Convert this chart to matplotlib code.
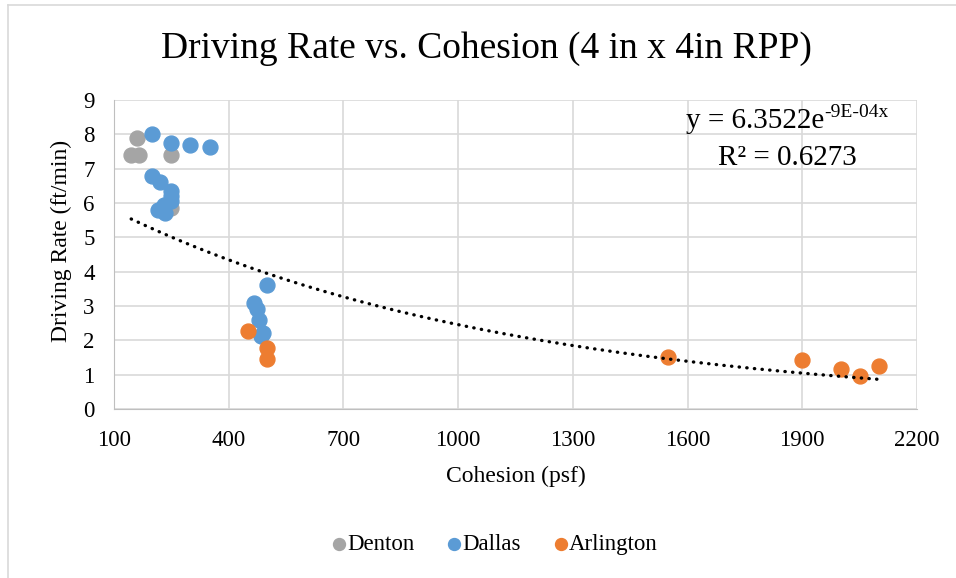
import numpy as np
import matplotlib
matplotlib.use("Agg")
import matplotlib.pyplot as plt
from matplotlib.lines import Line2D

plt.rcParams['font.family'] = ['Liberation Serif', 'DejaVu Serif']

# Datos
denton_x = [160, 145, 165, 250, 250]
denton_y = [7.9, 7.4, 7.4, 7.4, 5.85]

dallas_x = [200, 250, 300, 350, 200, 220, 250, 250, 250, 230, 215, 233,
            500, 465, 475, 480, 490, 485]
dallas_y = [8.0, 7.75, 7.7, 7.62, 6.78, 6.6, 6.35, 6.2, 6.05, 5.95, 5.8, 5.72,
            3.6, 3.1, 2.9, 2.6, 2.2, 2.12]

arlington_x = [450, 500, 500, 1550, 1900, 2000, 2050, 2100]
arlington_y = [2.27, 1.78, 1.45, 1.52, 1.42, 1.17, 0.95, 1.25]

# Linea de tendencia exponencial
a_tend = 6.3522
b_tend = -0.00095

x_ticks = [100, 400, 700, 1000, 1300, 1600, 1900, 2200]
y_ticks = list(range(0, 10))

W, H = 956, 578
fig = plt.figure(figsize=(W / 100, H / 100), dpi=100)
ax = fig.add_axes([114 / W, 1 - 409 / H, 803 / W, 309 / H])

ax.scatter(denton_x, denton_y, s=115, color='#a5a5a5', label='Denton', zorder=3)
ax.scatter(dallas_x, dallas_y, s=115, color='#5b9bd5', label='Dallas', zorder=3)
ax.scatter(arlington_x, arlington_y, s=115, color='#ed7d31', label='Arlington', zorder=3)

todos_x = denton_x + dallas_x + arlington_x
xt = np.linspace(min(todos_x), max(todos_x), 200)
ax.plot(xt, a_tend * np.exp(b_tend * xt), color='black', lw=2.4,
        linestyle=(0, (0.1, 2.2)), dash_capstyle='round', zorder=4)

ax.set_xlim(100, 2200)
ax.set_ylim(0, 9)
ax.set_xticks(x_ticks)
ax.set_yticks(y_ticks)
ax.tick_params(labelsize=16.5, length=0)
ax.tick_params(axis='x', pad=15)
ax.tick_params(axis='y', pad=14)
ax.grid(True, color='#d9d9d9', lw=1.2)
ax.set_axisbelow(True)
for s in ['top', 'right']:
    ax.spines[s].set_visible(False)
for s in ['left', 'bottom']:
    ax.spines[s].set_color('#bfbfbf')

ax.set_xlabel('Cohesion (psf)', fontsize=17)
ax.set_ylabel('Driving Rate (ft/min)', fontsize=17)
ax.xaxis.set_label_coords(0.5, (409 - 476) / 309)
ax.xaxis.label.set_va('center')
ax.yaxis.set_label_coords((61 - 114) / 803, 0.545)
ax.yaxis.label.set_va('center')

fig.text(486 / W, 1 - 49 / H, 'Driving Rate vs. Cohesion (4 in x 4in RPP)',
         fontsize=27, ha='center', va='center')

# Ecuacion de la tendencia
fig.text(824 / W, 1 - 128 / H, 'y = 6.3522e', fontsize=21, ha='right', va='baseline')
fig.text(824 / W, 1 - 117 / H, '-9E-04x', fontsize=14, ha='left', va='baseline')
fig.text(787 / W, 1 - 165 / H, 'R² = 0.6273', fontsize=21, ha='center', va='baseline')

fig.legend(loc='center', bbox_to_anchor=(494 / W, 1 - 544 / H), ncol=3, frameon=False,
           fontsize=16.5, handletextpad=0.0, columnspacing=1.35, handlelength=0.75,
           markerscale=0.8)

# Borde del grafico
fig.add_artist(Line2D([8 / W, 8 / W], [0, 1 - 5 / H], transform=fig.transFigure,
                      color='#d9d9d9', lw=1.2))
fig.add_artist(Line2D([8 / W, 1], [1 - 5 / H, 1 - 5 / H], transform=fig.transFigure,
                      color='#d9d9d9', lw=1.2))

fig.savefig('out.png', dpi=100)
